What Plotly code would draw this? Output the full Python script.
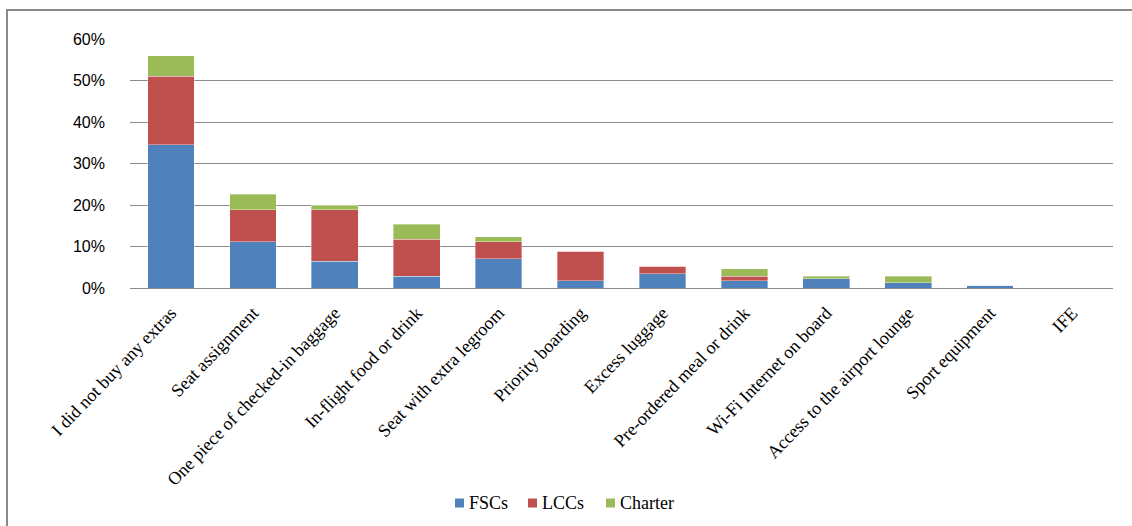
import plotly.graph_objects as go

categories = [
    "I did not buy any extras",
    "Seat assignment",
    "One piece of checked-in baggage",
    "In-flight food or drink",
    "Seat with extra legroom",
    "Priority boarding",
    "Excess luggage",
    "Pre-ordered meal or drink",
    "Wi-Fi Internet on board",
    "Access to the airport lounge",
    "Sport equipment",
    "IFE",
]
fscs = [34.5, 11.2, 6.5, 2.8, 7.1, 1.8, 3.4, 1.8, 2.2, 1.3, 0.7, 0.0]
lccs = [16.5, 7.6, 12.3, 8.9, 4.0, 7.1, 1.9, 1.0, 0.0, 0.0, 0.0, 0.0]
charter = [5.0, 3.8, 1.1, 3.7, 1.2, 0.0, 0.0, 1.8, 0.6, 1.5, 0.0, 0.0]
y_ticks = [0, 10, 20, 30, 40, 50, 60]

W, H = 1132, 526
L, R, T, B = 130, 19, 39, 238
pw, ph = W - L - R, H - T - B

series = [
    ("FSCs", fscs, "#4F81BD"),
    ("LCCs", lccs, "#C0504D"),
    ("Charter", charter, "#9BBB59"),
]

fig = go.Figure()
for name, vals, color in series:
    fig.add_trace(go.Bar(
        x=categories, y=vals, name=name,
        marker=dict(color=color, line=dict(color="rgba(255,255,255,0.6)", width=0.6)),
    ))

def px_x(p):
    return (p - L) / pw

def px_y(p):
    return (H - B - p) / ph

# outer chart frame
fig.add_shape(type="rect", xref="paper", yref="paper",
              x0=px_x(7), x1=px_x(1170), y0=px_y(10), y1=px_y(570),
              line=dict(color="#8a8a8a", width=2), layer="below")

# legend row under the axis labels: small square key + serif label
legend_x = [455, 528, 606]
legend_y = 503
for (name, _, color), lx in zip(series, legend_x):
    fig.add_shape(type="rect", xref="paper", yref="paper",
                  x0=px_x(lx), x1=px_x(lx + 9),
                  y0=px_y(legend_y + 4.5), y1=px_y(legend_y - 4.5),
                  line=dict(width=0), fillcolor=color)
    fig.add_annotation(xref="paper", yref="paper",
                       x=px_x(lx + 12), y=px_y(legend_y),
                       xanchor="left", yanchor="middle", showarrow=False,
                       text=name,
                       font=dict(family="Liberation Serif", size=18, color="#000000"))

fig.update_layout(
    width=W, height=H,
    margin=dict(l=L, r=R, t=T, b=B, pad=0, autoexpand=False),
    barmode="stack",
    bargap=0.43,
    plot_bgcolor="white",
    paper_bgcolor="white",
    showlegend=False,
    xaxis=dict(
        tickangle=-46,
        tickfont=dict(family="Liberation Serif", size=18, color="#000000"),
        showgrid=False, showline=False, ticks="",
        ticklabelstandoff=10, automargin=False,
    ),
    yaxis=dict(
        range=[0, 60],
        tickvals=y_ticks,
        ticktext=[f"{v}%" for v in y_ticks],
        tickfont=dict(family="Liberation Sans", size=16, color="#000000"),
        showgrid=True, gridcolor="#8c8c8c", gridwidth=1.2,
        zeroline=True, zerolinecolor="#8c8c8c", zerolinewidth=1.2,
        ticks="", ticklen=0, showline=False,
        ticklabelstandoff=24, automargin=False,
    ),
)

fig.write_html("out.html")
